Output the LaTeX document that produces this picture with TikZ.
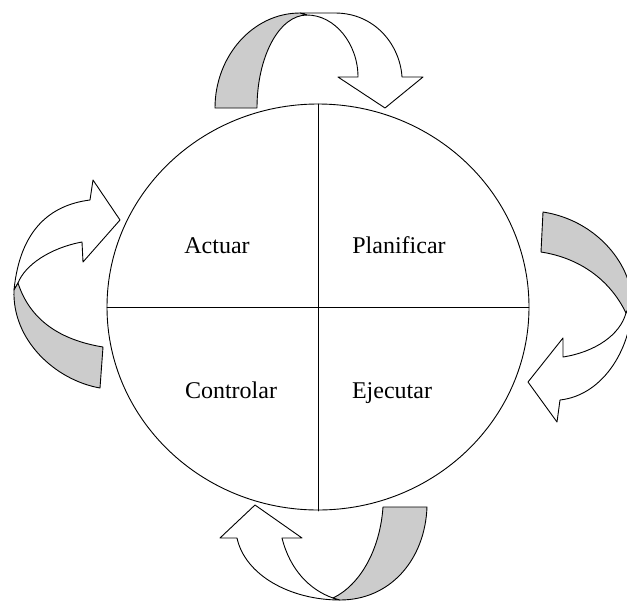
\documentclass[tikz,border=0pt]{standalone}
\usepackage{fontspec}
\setmainfont{Liberation Serif}
\begin{document}
\begin{tikzpicture}[x=1pt, y=-1pt, line join=round, line cap=round,
    back/.style={draw, line width=0.9pt, fill=gray!40},
    front/.style={draw, line width=0.9pt, fill=white},
    phase/.style={font=\fontsize{24}{28}\selectfont, anchor=base}]
  \useasboundingbox (0,0) rectangle (627,603);
  \clip (0,0) rectangle (627,603);
  % circle and quadrants
  \draw[line width=0.9pt] (318,307) ellipse [x radius=211, y radius=-203];
  \path
  (318,104) coordinate (N)
  (318,511) coordinate (S)
  (107,307) coordinate (W)
  (529,307) coordinate (E)
  ;
  \draw[line width=0.9pt] (N) -- (S);
  \draw[line width=0.9pt] (W) -- (E);
  \node[phase] (actuar) at (217,253) {Actuar};
  \node[phase] (planificar) at (399,253) {Planificar};
  \node[phase] (controlar) at (231,398) {Controlar};
  \node[phase] (ejecutar) at (392,398) {Ejecutar};
  % top arrow
  \draw[front] (300,13) -- (335,13) .. controls (375,13) and (400,45) .. (402,77)
    -- (423,77) -- (385,108) -- (338,77) -- (358,77)
    .. controls (358,44) and (335,15) .. (307,15) -- cycle;
  \draw[back] (215,108) .. controls (215,56) and (253,13) .. (300,13) -- (307,15)
    .. controls (279,15) and (257,57) .. (257,108) -- cycle;
  % right arrow
  \draw[front] (632,300) .. controls (633,345) and (605,395) .. (560,400)
    -- (557,422) -- (528,382) -- (563,338) -- (563,357)
    .. controls (595,352) and (620,335) .. (626,313) -- cycle;
  \draw[back] (543,212) .. controls (595,220) and (630,262) .. (632,300) -- (626,313)
    .. controls (610,280) and (580,258) .. (541,252) -- cycle;
  % bottom arrow
  \draw[front] (340,600) .. controls (290,600) and (245,575) .. (237,538)
    -- (220,538) -- (255,505) -- (302,538) -- (282,538)
    .. controls (290,570) and (310,590) .. (333,598) -- cycle;
  \draw[back] (427,507) .. controls (425,560) and (390,600) .. (340,600) -- (333,598)
    .. controls (360,585) and (380,550) .. (383,507) -- cycle;
  % left arrow
  \draw[front] (14,290) .. controls (20,230) and (50,205) .. (90,200)
    -- (93,180) -- (120,220) -- (83,262) -- (82,242)
    .. controls (50,248) and (25,265) .. (18,283) -- cycle;
  \draw[back] (14,290) .. controls (12,340) and (55,380) .. (100,388) -- (103,347)
    .. controls (60,340) and (30,320) .. (18,283) -- cycle;
\end{tikzpicture}
\end{document}
